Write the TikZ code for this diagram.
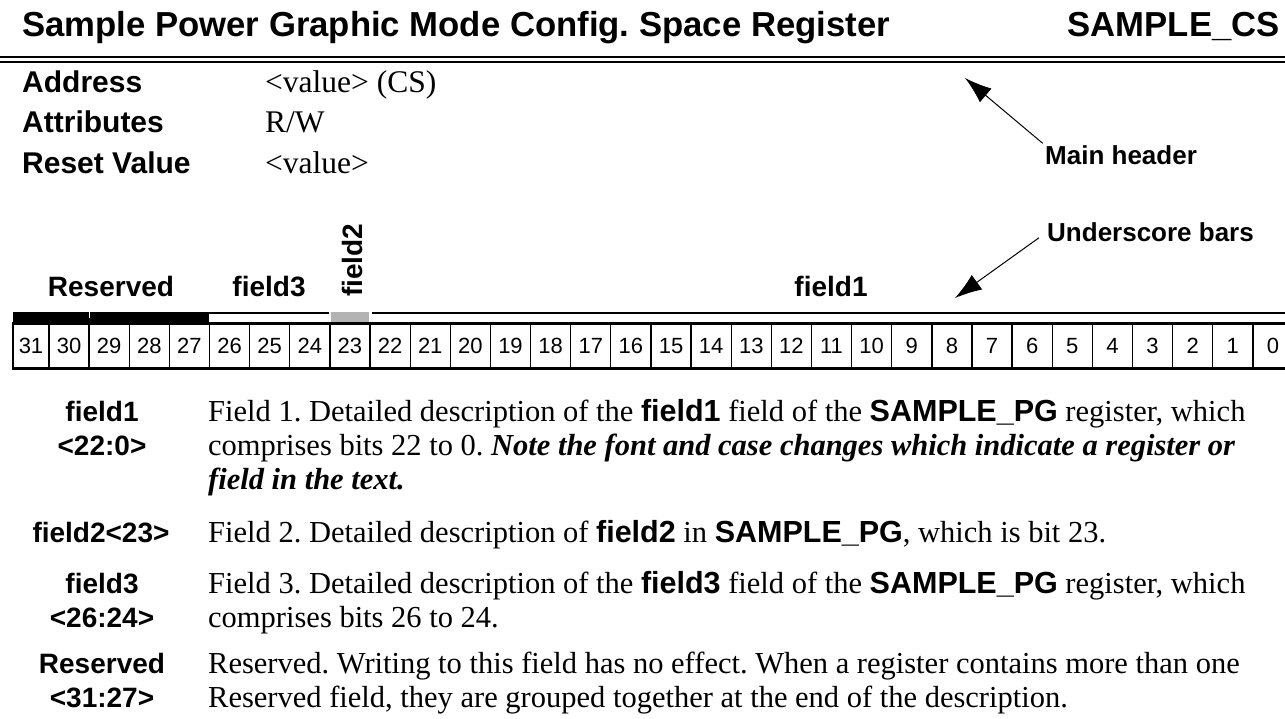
\documentclass[tikz,border=0pt]{standalone}
\usepackage{fontspec}
\setmainfont{Liberation Serif}
\setsansfont{Liberation Sans}
\usetikzlibrary{arrows.meta}
\definecolor{bargray}{RGB}{179,179,179}
\newcommand{\fld}[1]{\textsf{\bfseries #1}}
\frenchspacing

\begin{document}
\begin{tikzpicture}[x=1pt, y=-1pt,
title/.style={font=\sffamily\bfseries\fontsize{34.7}{40}\selectfont, inner sep=0},
lbl/.style={font=\sffamily\bfseries\fontsize{30}{34}\selectfont, inner sep=0},
val/.style={font=\fontsize{31.5}{34}\selectfont, inner sep=0},
note/.style={font=\sffamily\bfseries\fontsize{26}{30}\selectfont, inner sep=0},
fieldname/.style={font=\sffamily\bfseries\fontsize{28}{34}\selectfont, inner sep=0},
bitcell/.style={draw, line width=1.3pt, minimum height=44pt, inner sep=0,
  font=\sffamily\fontsize{22}{24}\selectfont},
desclbl/.style={font=\sffamily\bfseries\fontsize{28}{34}\selectfont, align=center, inner sep=0},
desc/.style={font=\fontsize{30.5}{34}\selectfont, align=left, inner sep=0},
callout/.style={-{Latex[length=27pt, width=18pt]}, line width=1pt}
]
\useasboundingbox (0,0) rectangle (1285,719);

% header
\node[title, anchor=base west] (title) at (22,37) {Sample Power Graphic Mode Config. Space Register};
\node[title, anchor=base east] (regname) at (1280,37) {SAMPLE\_CS};
\draw[line width=2.5pt] (0,57) -- (1285,57);
\draw[line width=2pt] (0,62.5) -- (1285,62.5);

\node[lbl, anchor=base west] (addr) at (22,93) {Address};
\node[val, anchor=base west] (addrval) at (265,93) {<value> (CS)};
\node[lbl, anchor=base west] (attr) at (22,133) {Attributes};
\node[val, anchor=base west] (attrval) at (265,133) {R/W};
\node[lbl, anchor=base west] (reset) at (22,174) {Reset Value};
\node[val, anchor=base west] (resetval) at (265,174) {<value>};

% field names
\node[fieldname, anchor=base] (resv) at (111,297) {Reserved};
\node[fieldname, anchor=base] (f3) at (269,297) {field3};
\node[fieldname, anchor=west, rotate=90] (f2) at (352,297) {field2};
\node[fieldname, anchor=base] (f1) at (831,297) {field1};

% underscore bars
\fill (13,312) rectangle (209,324);
\draw[white, line width=0.8pt] (89,312) -- (89,318);
\draw[line width=2pt] (209,313) -- (329,313);
\fill[bargray] (330.5,312) rectangle (368.5,323.5);
\draw[line width=2pt] (372,313) -- (1285,313);

% bit cells
\foreach \b in {0,...,31} {
  \pgfmathsetmacro\xr{49+40.13*(31-\b)}
  \pgfmathsetmacro\xl{max(13,\xr-40.13)}
  \pgfmathsetmacro\w{\xr-\xl}
  \node[bitcell, minimum width=\w pt] (bit\b) at ({(\xl+\xr)/2},346) {\b};
}
\draw[line width=2pt] (bit31.north west) -- (bit0.north east);
\draw[line width=2pt] (bit31.south west) -- (bit0.south east);

% callouts
\node[note, anchor=west] (mainhdr) at (1045,155) {Main header};
\coordinate (hdrtip) at (965,78);
\draw[callout, shorten <=3pt] (mainhdr.north west) -- (hdrtip);
\node[note, anchor=west] (usbars) at (1047,232) {Underscore bars};
\coordinate (bartip) at (955,298);
\draw[callout, shorten <=10pt] (usbars.west) -- (bartip);

% descriptions (base = last line)
\node[desclbl, anchor=base] (d1lbl) at (102,455.5) {field1\\<22:0>};
\node[desc, anchor=base west] (d1) at (208,489.5) {Field 1. Detailed description of the \fld{field1} field of the \fld{SAMPLE\_PG} register, which\\
comprises bits 22 to 0. \textit{\bfseries Note the font and case changes which indicate a register or}\\
\textit{\bfseries field in the text.}};

\node[desclbl, anchor=base] (d2lbl) at (101,542.5) {field2<23>};
\node[desc, anchor=base west] (d2) at (208,542.5) {Field 2. Detailed description of \fld{field2} in \fld{SAMPLE\_PG}, which is bit 23.};

\node[desclbl, anchor=base] (d3lbl) at (102,627.5) {field3\\<26:24>};
\node[desc, anchor=base west] (d3) at (208,627.5) {Field 3. Detailed description of the \fld{field3} field of the \fld{SAMPLE\_PG} register, which\\
comprises bits 26 to 24.};

\node[desclbl, anchor=base] (d4lbl) at (102,707.5) {Reserved\\<31:27>};
\node[desc, anchor=base west] (d4) at (208,707.5) {Reserved. Writing to this field has no effect. When a register contains more than one\\
Reserved field, they are grouped together at the end of the description.};

\end{tikzpicture}
\end{document}
